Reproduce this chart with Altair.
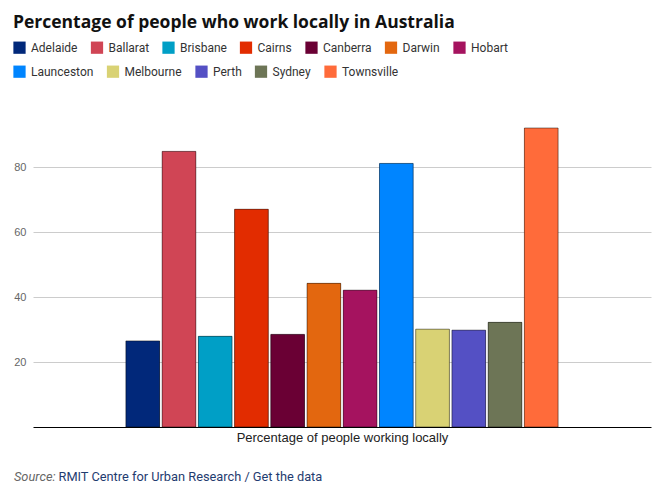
import altair as alt
import pandas as pd

cities = ["Adelaide", "Ballarat", "Brisbane", "Cairns", "Canberra", "Darwin", "Hobart",
          "Launceston", "Melbourne", "Perth", "Sydney", "Townsville"]
values = [26.5, 84.8, 27.9, 67.0, 28.5, 44.2, 42.1, 81.1, 30.1, 29.8, 32.2, 92.0]
colors = ["#01287a", "#d04555", "#009fc6", "#e22c00", "#6a0034", "#e3670f", "#a5135f",
          "#0085ff", "#d9d274", "#5450c4", "#6d7556", "#ff6b3a"]
group_label = "Percentage of people working locally"
y_ticks = [20, 40, 60, 80]

df = pd.DataFrame({"city": cities, "value": values, "group": [group_label] * len(cities)})

W, H = 618, 325

x_enc = alt.X("group:N", title=None,
              scale=alt.Scale(paddingInner=0, paddingOuter=0.215),
              axis=alt.Axis(labels=False, ticks=False, domainColor="#000", domainWidth=1,
                            title=group_label, titleFontWeight="normal", titleFontSize=13,
                            titleColor="#222", titleFont="Liberation Sans", titlePadding=4))
xo_enc = alt.XOffset("city:N", sort=cities,
                     scale=alt.Scale(paddingInner=0.07, paddingOuter=0))
y_enc = alt.Y("value:Q", title=None,
              scale=alt.Scale(domain=[0, 100], nice=False),
              axis=alt.Axis(values=y_ticks, domain=False, ticks=False, gridColor="#cccccc",
                            labelColor="#666", labelFontSize=11, labelFont="Liberation Sans",
                            labelPadding=7))

def legend(vals, ly):
    return alt.Legend(title=None, orient="none", legendX=-20, legendY=ly,
                      direction="horizontal", values=vals,
                      symbolType="square", symbolSize=150,
                      symbolStrokeWidth=0, symbolOpacity=1,
                      labelFontSize=12, labelFont="Roboto", labelColor="#333",
                      labelOffset=5, columnPadding=12.5)

color_scale = alt.Scale(domain=cities, range=colors)

bars_under = alt.Chart(df).mark_bar().encode(
    x=x_enc, xOffset=xo_enc, y=y_enc,
    color=alt.Color("city:N", sort=cities, scale=color_scale, legend=legend(cities[7:], -37)),
)

bars = alt.Chart(df).mark_bar(stroke="black", strokeOpacity=0.45, strokeWidth=1).encode(
    x=x_enc, xOffset=xo_enc, y=y_enc,
    color=alt.Color("city:N", sort=cities, scale=color_scale, legend=legend(cities[:7], -61)),
)

src1 = alt.Chart(pd.DataFrame({"t": ["Source:"]})).mark_text(
    align="left", baseline="middle", fontStyle="italic", fontSize=12.8, font="Roboto",
    color="#666").encode(x=alt.value(-19), y=alt.value(375), text="t:N")
src2 = alt.Chart(pd.DataFrame({"t": ["RMIT Centre for Urban Research / Get the data"]})).mark_text(
    align="left", baseline="middle", fontSize=12.8, font="Roboto",
    color="#1f3c70").encode(x=alt.value(25.5), y=alt.value(375), text="t:N")

chart = alt.layer(bars_under, bars, src1, src2).resolve_legend(color="independent").properties(
    width=W, height=H,
    title=alt.Title("Percentage of people who work locally in Australia", anchor="start",
                    fontSize=17.5, font="Open Sans", fontWeight="bold", color="#111",
                    offset=10),
    autosize=alt.AutoSizeParams(type="none"),
    padding={"left": 33, "top": 102, "right": 6, "bottom": 62},
).configure(background="white").configure_view(stroke=None)

chart.save("out.html", embed_options={"renderer": "svg", "actions": False})
